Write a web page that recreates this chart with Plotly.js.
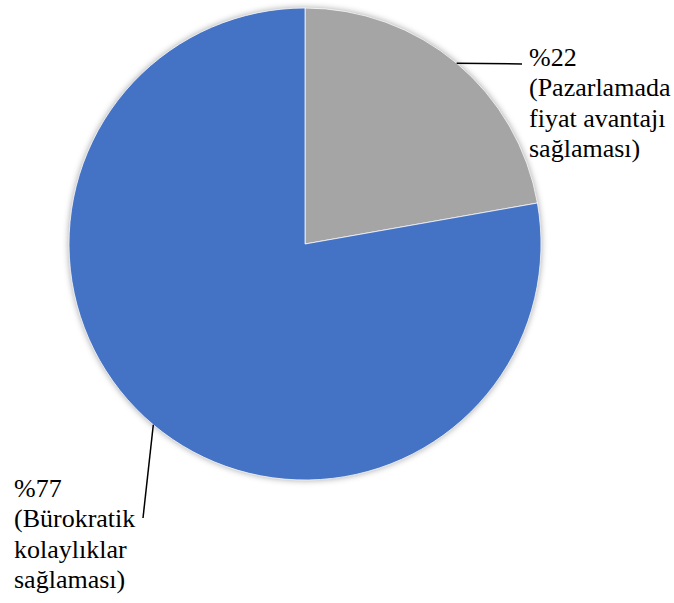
<!DOCTYPE html>
<html><head><meta charset="utf-8">
<script src="https://cdn.plot.ly/plotly-3.0.1.min.js"></script>
<style>
html,body{margin:0;padding:0;background:#fff}
#chart{width:674px;height:603px}
.pielayer{filter:drop-shadow(0px 0px 3px rgba(0,0,0,0.35));}
</style></head>
<body><div id="chart"></div>
<script>
const categories = ['Pazarlamada fiyat avantajı sağlaması', 'Bürokratik kolaylıklar sağlaması'];
const values = [22, 77];
const percentLabels = ['%22', '%77'];
const labelLines = [
  ['(Pazarlamada', 'fiyat avantajı', 'sağlaması)'],
  ['(Bürokratik', 'kolaylıklar', 'sağlaması)']
];
const colors = ['#A5A5A5', '#4472C4'];

const W = 674, H = 603;
const cx = 305, cy = 244, R = 236;
// label layout (pixels)
const labelPos = [{x: 527, base: 66, lineEnd: [522, 64]}, {x: 12, base: 497, lineEnd: [143, 518]}];
const lineGap = 30.5, fs = 26;

const px = x => x / W, py = y => 1 - y / H;

const total = values.reduce((a, b) => a + b, 0);
let cum = 0;
const shapes = [], annotations = [];
values.forEach((v, i) => {
  const mid = (cum + v / 2) / total * 2 * Math.PI;
  cum += v;
  const ex = cx + R * Math.sin(mid), ey = cy - R * Math.cos(mid);
  const lp = labelPos[i];
  shapes.push({type: 'line', xref: 'paper', yref: 'paper',
    x0: px(ex), y0: py(ey), x1: px(lp.lineEnd[0]), y1: py(lp.lineEnd[1]),
    line: {color: '#000', width: 1.5}});
  const lines = [percentLabels[i]].concat(labelLines[i]);
  lines.forEach((t, k) => {
    annotations.push({text: t, xref: 'paper', yref: 'paper', x: px(lp.x),
      y: py(lp.base + k * lineGap - 9), xanchor: 'left', yanchor: 'middle',
      showarrow: false, font: {family: 'Liberation Serif', size: fs, color: '#000'}});
  });
});

const trace = {
  type: 'pie', labels: categories, values: values, sort: false,
  direction: 'clockwise', rotation: 0, textinfo: 'none', hoverinfo: 'skip',
  marker: {colors: colors, line: {color: '#ffffff', width: 0.75}},
  domain: {x: [(cx - R) / W, (cx + R) / W], y: [1 - (cy + R) / H, 1 - (cy - R) / H]},
  showlegend: false
};

Plotly.newPlot('chart', [trace], {
  width: W, height: H, margin: {l: 0, r: 0, t: 0, b: 0},
  paper_bgcolor: '#fff', plot_bgcolor: '#fff',
  shapes: shapes, annotations: annotations, showlegend: false
}, {displayModeBar: false, staticPlot: true});
</script></body></html>
